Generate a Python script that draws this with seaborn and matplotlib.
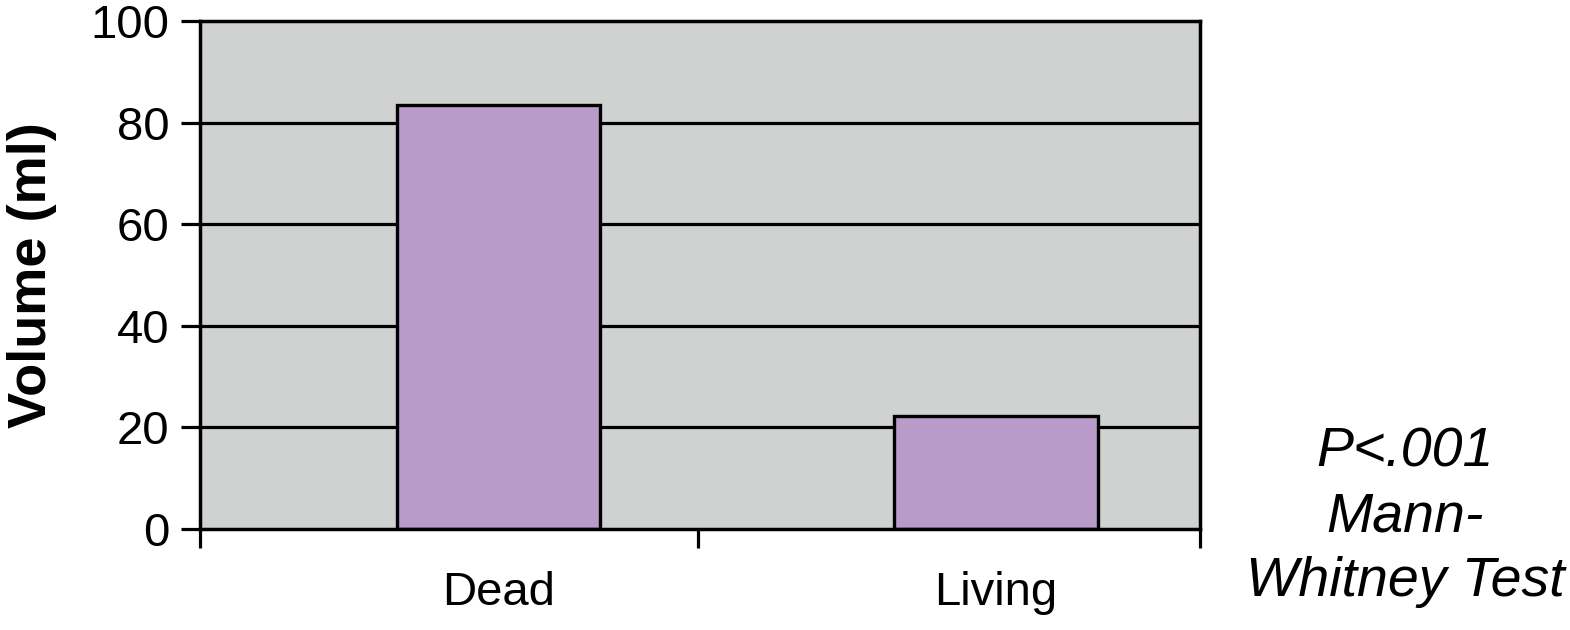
import matplotlib
matplotlib.use("Agg")
import matplotlib.pyplot as plt
import seaborn as sns
import pandas as pd

groups = ["Dead", "Living"]
volumes = [83.5, 22.2]
yticks = [0, 20, 40, 60, 80, 100]

df = pd.DataFrame({"group": groups, "volume": volumes})

sns.set_style("white")
plt.rcParams['font.family'] = ['Liberation Sans', 'DejaVu Sans']
plt.rcParams['text.color'] = 'black'
plt.rcParams['xtick.color'] = 'black'
plt.rcParams['ytick.color'] = 'black'
plt.rcParams['axes.labelcolor'] = 'black'

fig = plt.figure(figsize=(15.7, 6.3), dpi=100)
ax = fig.add_axes([200 / 1570, 101 / 630, 1000 / 1570, 508 / 630])
ax.set_facecolor("#d0d1d1")

sns.barplot(data=df, x="group", y="volume", color="#b89bc8", saturation=1,
            edgecolor="black", linewidth=2.4, width=0.41, ax=ax, zorder=3)

ax.set_ylim(0, 100)
# plot area is offset relative to the categories (Excel-style)
ax.set_xlim(-0.6, 1.41)
ax.set_yticks(yticks)
ax.set_yticklabels([str(v) for v in yticks], fontsize=34)
for v in yticks[1:-1]:
    ax.axhline(v, color="black", lw=2.3, zorder=1)

ax.set_xticks([-0.6, 0.4, 1.41])
ax.set_xticklabels(["", "", ""])
ax.set_xticks([0, 1], minor=True)
ax.set_xticklabels(groups, minor=True, fontsize=34)
ax.tick_params(axis="x", which="minor", length=0, pad=30)
ax.tick_params(axis="both", which="major", direction="out", length=14,
               width=2.3, bottom=True, left=True)
ax.tick_params(axis="y", pad=8)

for s in ax.spines.values():
    s.set_linewidth(2.5)
    s.set_color("black")
    s.set_zorder(4)

ax.set_xlabel("")
ax.set_ylabel("Volume (ml)", fontsize=39, fontweight="bold", labelpad=24)

fig.text(1405 / 1570, 1 - 517 / 630, "P<.001\nMann-\nWhitney Test",
         ha="center", va="center", fontsize=40, style="italic", linespacing=1.32)

fig.savefig("out.png", dpi=100)
